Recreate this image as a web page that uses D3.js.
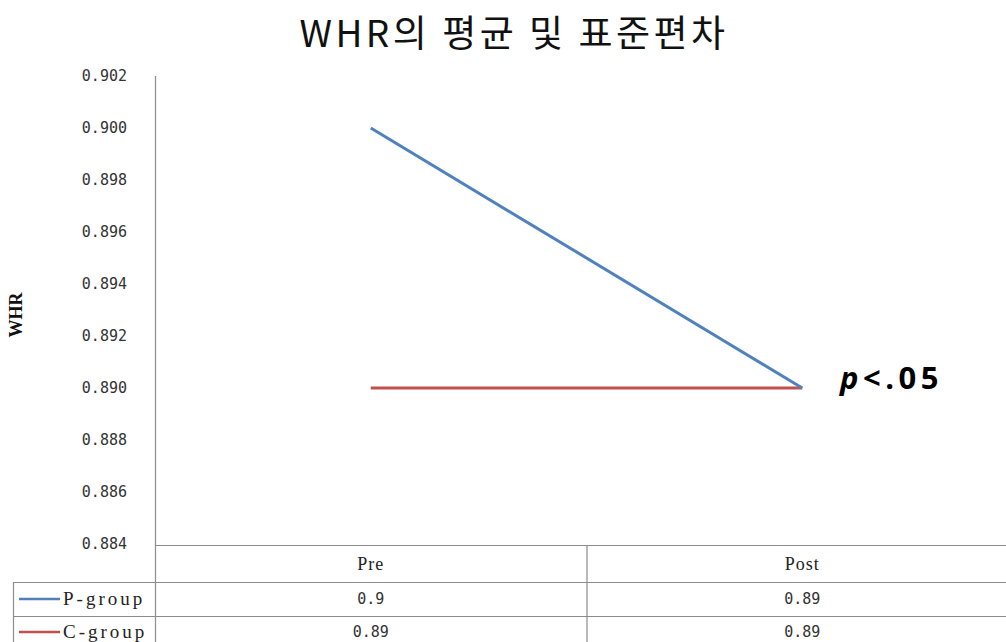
<!DOCTYPE html>
<html><head><meta charset="utf-8">
<script src="https://cdn.jsdelivr.net/npm/d3@7"></script>
<style>html,body{margin:0;padding:0;background:#fff;}</style>
</head><body>
<script>
const categories = ["Pre", "Post"];
const seriesNames = ["P-group", "C-group"];
const pGroup = [0.9, 0.89];
const cGroup = [0.89, 0.89];
const seriesColors = ["#4F81BD", "#C0504D"];
const yTickValues = [0.884, 0.886, 0.888, 0.890, 0.892, 0.894, 0.896, 0.898, 0.900, 0.902];
const title = "WHR의 평균 및 표준편차";
const yLabel = "WHR";
const annotation = ".05";

const W = 1006, H = 642;
const svg = d3.select("body").append("svg").attr("width", W).attr("height", H);

const x = d3.scaleBand().domain(categories).range([155, 1018]);
const y = d3.scaleLinear().domain([0.884, 0.902]).range([544, 76]);
const gridCol = "#8c8c8c";
const monoFont = "'DejaVu Sans Mono','Liberation Mono',monospace";

// title
svg.append("text").attr("x", 514).attr("y", 47).attr("text-anchor", "middle")
  .attr("font-family", "'Noto Sans CJK KR'").attr("font-size", 37).attr("letter-spacing", 3.5)
  .attr("fill", "#111").text(title);

// y axis
const yAxis = d3.axisLeft(y).tickValues(yTickValues).tickFormat(d3.format(".3f")).tickSize(0).tickPadding(28);
const gy = svg.append("g").attr("transform", "translate(155,0)").call(yAxis);
gy.select(".domain").remove();
gy.selectAll("text").attr("font-family", monoFont).attr("font-size", 15).attr("fill", "#333");

svg.append("text").attr("transform", "translate(22,315) rotate(-90)").attr("text-anchor", "middle")
  .attr("font-family", "'Liberation Serif',serif").attr("font-weight", "bold").attr("font-size", 18)
  .attr("fill", "#111").text(yLabel);

// axis line & table lines
const line = (x1, y1, x2, y2) => svg.append("line").attr("x1", x1).attr("y1", y1).attr("x2", x2).attr("y2", y2)
  .attr("stroke", gridCol).attr("stroke-width", 1.2);
line(155.5, 76, 155.5, 642);
line(155, 545.5, 1006, 545.5);
line(13, 582.5, 1006, 582.5);
line(13, 616.5, 1006, 616.5);
line(13.5, 582, 13.5, 642);
line(x("Post") + 0.5, 545, x("Post") + 0.5, 642);

// series lines
const lineGen = d3.line().x((d, i) => x(categories[i]) + x.bandwidth() / 2).y(d => y(d));
[cGroup, pGroup].forEach((s, k) => {
  const idx = k === 0 ? 1 : 0;
  svg.append("path").datum(s).attr("d", lineGen).attr("fill", "none")
    .attr("stroke", seriesColors[idx]).attr("stroke-width", 3);
});

// annotation
const ann = svg.append("text").attr("x", 840).attr("y", 389)
  .attr("font-family", "'Open Sans','Liberation Sans',sans-serif").attr("font-weight", "bold")
  .attr("font-size", 31).attr("letter-spacing", 4.5).attr("fill", "#000");
ann.append("tspan").attr("font-style", "italic").text("p");
ann.append("tspan").text("<" + annotation);

// table header
categories.forEach(c => {
  svg.append("text").attr("x", x(c) + x.bandwidth() / 2).attr("y", 570).attr("text-anchor", "middle")
    .attr("font-family", "'Liberation Serif',serif").attr("font-size", 18).attr("letter-spacing", 1).attr("fill", "#222").text(c);
});
// table rows
const rowsY = [605, 638];
[pGroup, cGroup].forEach((s, r) => {
  svg.append("line").attr("x1", 19).attr("x2", 60).attr("y1", rowsY[r] - 6).attr("y2", rowsY[r] - 6)
    .attr("stroke", seriesColors[r]).attr("stroke-width", 2.5);
  svg.append("text").attr("x", 63).attr("y", rowsY[r]).attr("font-family", "'Liberation Serif',serif")
    .attr("font-size", 19).attr("letter-spacing", 3).attr("fill", "#222").text(seriesNames[r]);
  s.forEach((v, i) => {
    svg.append("text").attr("x", x(categories[i]) + x.bandwidth() / 2).attr("y", rowsY[r] - 1).attr("text-anchor", "middle")
      .attr("font-family", monoFont).attr("font-size", 15).attr("fill", "#333").text(String(v));
  });
});
</script>
</body></html>
